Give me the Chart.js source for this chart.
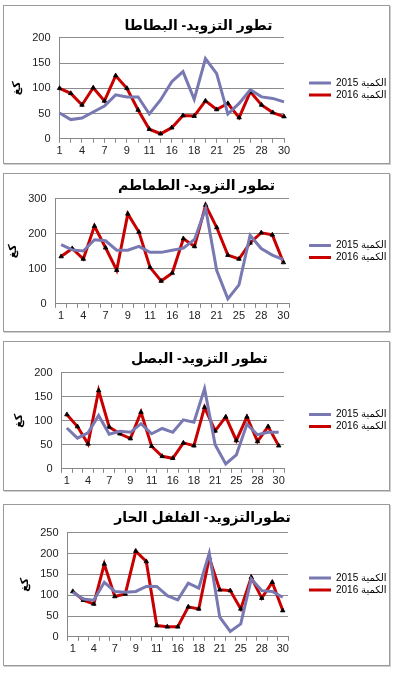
<!DOCTYPE html>
<html>
<head>
<meta charset="utf-8">
<script src="https://cdn.jsdelivr.net/npm/chart.js@4"></script>
<style>
  body { margin: 0; background: #fff; width: 393px; height: 674px; position: relative; overflow: hidden; }
  .box { position: absolute; left: 3px; width: 385px; border: 1px solid #9a9a9a; box-shadow: 1px 1px 0 #cfcfcf; background: #fff; }
</style>
</head>
<body>
<div class="box" style="top:5px;height:157px"><canvas id="c1"></canvas></div>
<div class="box" style="top:173px;height:157px"><canvas id="c2"></canvas></div>
<div class="box" style="top:341px;height:148px"><canvas id="c3"></canvas></div>
<div class="box" style="top:504px;height:160px"><canvas id="c4"></canvas></div>
<script>
const days = ["1", "3", "4", "6", "7", "8", "9", "10", "11", "14", "16", "17", "18", "20", "21", "23", "25", "27", "28", "29", "30"];
const seriesNames = ["الكمية 2015", "الكمية 2016"];

const potato2015 = [51, 38, 41, 53, 65, 87, 83, 83, 49, 77, 113, 133, 78, 159, 129, 49, 70, 97, 83, 80, 73];
const potato2016 = [100, 90, 67, 101, 75, 125, 100, 57, 19, 10, 22, 46, 45, 75, 58, 70, 42, 93, 67, 52, 44];

const tomato2015 = [169, 154, 151, 183, 180, 153, 153, 164, 147, 147, 153, 159, 184, 272, 95, 14, 54, 196, 158, 139, 126];
const tomato2016 = [135, 158, 128, 222, 160, 96, 257, 205, 104, 65, 88, 186, 164, 282, 218, 139, 128, 174, 203, 197, 118];

const onion2015 = [85, 64, 75, 111, 72, 78, 76, 94, 73, 84, 76, 102, 97, 167, 50, 10, 29, 93, 71, 76, 76];
const onion2016 = [113, 88, 52, 163, 87, 73, 63, 118, 47, 26, 22, 54, 48, 128, 79, 108, 59, 108, 57, 88, 48];

const pepper2015 = [107, 91, 88, 131, 109, 107, 109, 121, 121, 99, 89, 129, 117, 201, 47, 13, 31, 139, 111, 109, 95];
const pepper2016 = [109, 88, 79, 175, 97, 103, 206, 181, 27, 24, 24, 72, 67, 190, 113, 111, 67, 143, 93, 131, 63];

const FONT = "Arial, 'Liberation Sans', 'DejaVu Sans', sans-serif";

// reserve a fixed strip for the legend and leave a gap before it (Excel style)
const legendGap = {
    id: "legendGap",
    beforeInit(chart) {
        const fit = chart.legend.fit;
        chart.legend.fit = function () {
            fit.call(this);
            this.width = chart.options.plugins.legendGap.width;
        };
    },
    afterLayout(chart) {
        chart.legend.left = chart.chartArea.right + chart.options.plugins.legendGap.gap;
    },
};

function makeChart(id, title, a, b, max, step, opt) {
    new Chart(document.getElementById(id), {
        type: "line",
        data: {
            labels: days,
            datasets: [
                {
                    label: seriesNames[0],
                    data: a,
                    borderColor: "#7878b2",
                    backgroundColor: "#7878b2",
                    borderWidth: 3,
                    pointRadius: 0,
                    tension: 0,
                },
                {
                    label: seriesNames[1],
                    data: b,
                    borderColor: "#c80000",
                    backgroundColor: "#c80000",
                    borderWidth: 3,
                    pointStyle: "triangle",
                    pointRadius: 2.6,
                    pointBackgroundColor: "#000",
                    pointBorderColor: "#000",
                    pointBorderWidth: 0.8,
                    tension: 0,
                },
            ],
        },
        plugins: [legendGap],
        options: {
            responsive: true,
            maintainAspectRatio: false,
            animation: false,
            layout: { padding: opt.pad },
            plugins: {
                legendGap: { width: opt.legendWidth, gap: opt.gap },
                title: {
                    display: true,
                    text: title,
                    color: "#000",
                    font: { family: FONT, size: 14, weight: "bold" },
                    padding: { top: 0, bottom: opt.titleGap },
                },
                legend: {
                    position: "right",
                    labels: {
                        boxWidth: 22,
                        boxHeight: 3,
                        padding: 2,
                        color: "#000",
                        font: { family: FONT, size: 10 },
                        generateLabels(chart) {
                            return chart.data.datasets.map((ds, i) => ({
                                text: ds.label,
                                fillStyle: ds.borderColor,
                                strokeStyle: ds.borderColor,
                                lineWidth: 0,
                                hidden: false,
                                datasetIndex: i,
                            }));
                        },
                    },
                },
                tooltip: { enabled: false },
            },
            scales: {
                x: {
                    offset: opt.between,
                    grid: {
                        offset: opt.between,
                        drawOnChartArea: false,
                        drawTicks: true,
                        tickLength: 4,
                        color: "#888",
                    },
                    border: { color: "#888" },
                    ticks: {
                        autoSkip: false,
                        maxRotation: 0,
                        color: "#222",
                        font: { family: FONT, size: 11 },
                        padding: 2,
                        callback(v, i) { return i % 2 === 0 ? days[i] : ""; },
                    },
                },
                y: {
                    min: 0,
                    max: max,
                    ticks: {
                        stepSize: step,
                        color: "#222",
                        font: { family: FONT, size: 11 },
                        padding: 9,
                    },
                    grid: { color: "#8c8c8c", drawTicks: false },
                    border: { color: "#888" },
                    title: {
                        display: true,
                        text: "كغ",
                        color: "#000",
                        font: { family: FONT, size: 11, weight: "bold" },
                        padding: 0,
                    },
                },
            },
        },
    });
}

makeChart("c1", "تطور التزويد- البطاطا", potato2015, potato2016, 200, 50,
    { pad: { left: 6, right: 2, top: 12, bottom: 3 }, titleGap: 3, legendWidth: 103, gap: 23, between: false });
makeChart("c2", "تطور التزويد- الطماطم", tomato2015, tomato2016, 300, 100,
    { pad: { left: 2, right: 2, top: 4, bottom: 6 }, titleGap: 4, legendWidth: 98, gap: 18, between: true });
makeChart("c3", "تطور التزويد- البصل", onion2015, onion2016, 200, 50,
    { pad: { left: 8, right: 2, top: 9, bottom: 0 }, titleGap: 5, legendWidth: 103, gap: 23, between: true });
makeChart("c4", "تطورالتزويد- الفلفل الحار", pepper2015, pepper2016, 250, 50,
    { pad: { left: 14, right: 2, top: 5, bottom: 7 }, titleGap: 6, legendWidth: 99, gap: 19, between: true });
</script>
</body>
</html>
